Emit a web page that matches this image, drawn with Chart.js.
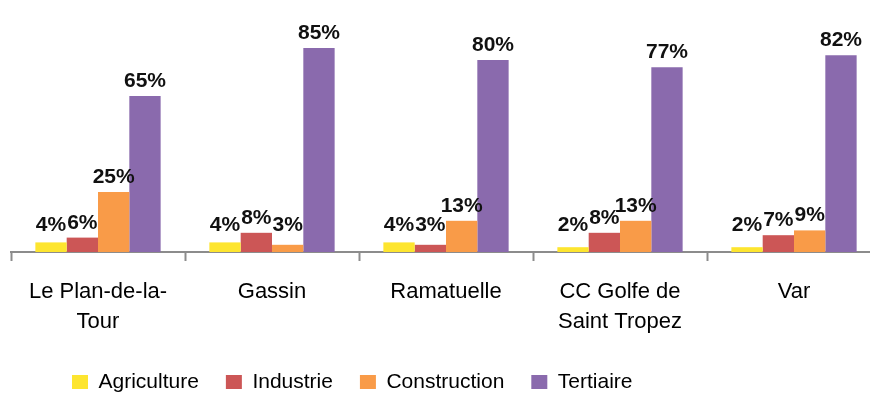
<!DOCTYPE html>
<html>
<head>
<meta charset="utf-8">
<script src="https://cdn.jsdelivr.net/npm/chart.js@4"></script>
<style>
  html, body { margin: 0; padding: 0; background: #fff; overflow: hidden; }
  #wrap { width: 890px; height: 394px; }
</style>
</head>
<body>
<div id="wrap"><canvas id="chart" width="890" height="394"></canvas></div>
<script>
/* Répartition des emplois par secteur d'activité */

const SANS = "'Liberation Sans', Arial, sans-serif";

const TERRITOIRES = [
  ["Le Plan-de-la-", "Tour"],
  "Gassin",
  "Ramatuelle",
  ["CC Golfe de", "Saint Tropez"],
  "Var",
];
const AGRICULTURE = [4, 4, 4, 2, 2];
const INDUSTRIE = [6, 8, 3, 8, 7];
const CONSTRUCTION = [25, 3, 13, 13, 9];
const TERTIAIRE = [65, 85, 80, 77, 82];

const SERIES = [
  { label: "Agriculture", data: AGRICULTURE, color: "#FDE52F" },
  { label: "Industrie", data: INDUSTRIE, color: "#CC5656" },
  { label: "Construction", data: CONSTRUCTION, color: "#F99B48" },
  { label: "Tertiaire", data: TERTIAIRE, color: "#8A6AAD" },
];

// value labels above each bar, kept clear of the axis
const valueLabels = {
  id: "valueLabels",
  afterDatasetsDraw(chart) {
    const ctx = chart.ctx;
    ctx.save();
    ctx.font = "bold 21px " + SANS;
    ctx.fillStyle = "#111";
    ctx.textAlign = "center";
    ctx.textBaseline = "alphabetic";
    chart.data.datasets.forEach((ds, i) => {
      chart.getDatasetMeta(i).data.forEach((bar, j) => {
        const y = Math.min(bar.y - 9, 231);
        ctx.fillText(ds.data[j] + "%", bar.x, y);
      });
    });
    ctx.restore();
  },
};

// legend sits left of centre, under the first categories
const legendPlace = {
  id: "legendPlace",
  afterLayout(chart) {
    chart.legend.left = 45;
    chart.legend.top = 344.5;
  },
};

new Chart(document.getElementById("chart"), {
  type: "bar",
  data: {
    labels: TERRITOIRES,
    datasets: SERIES.map((s) => ({
      label: s.label,
      data: s.data,
      backgroundColor: s.color,
      borderWidth: 0,
      categoryPercentage: 0.72,
      barPercentage: 1.0,
    })),
  },
  options: {
    responsive: false,
    animation: false,
    devicePixelRatio: 1,
    layout: { padding: { left: 11, right: 9, top: 0, bottom: 0 } },
    plugins: {
      tooltip: { enabled: false },
      legend: {
        position: "bottom",
        align: "start",
        labels: {
          boxWidth: 16, boxHeight: 14, padding: 27,
          color: "#000",
          font: { family: SANS, size: 21 },
        },
      },
    },
    scales: {
      x: {
        afterFit(scale) { scale.height = 84; },
        border: { display: true, color: "#8c8c8c", width: 2 },
        grid: {
          offset: true, drawOnChartArea: false, drawTicks: true,
          tickLength: 9, tickColor: "#8c8c8c", tickWidth: 2,
        },
        ticks: {
          color: "#000", padding: 16, maxRotation: 0, autoSkip: false,
          font: { family: SANS, size: 22, lineHeight: 1.36 },
        },
      },
      y: {
        display: false,
        min: 0, max: 105,
      },
    },
  },
  plugins: [valueLabels, legendPlace],
});
</script>
</body>
</html>
